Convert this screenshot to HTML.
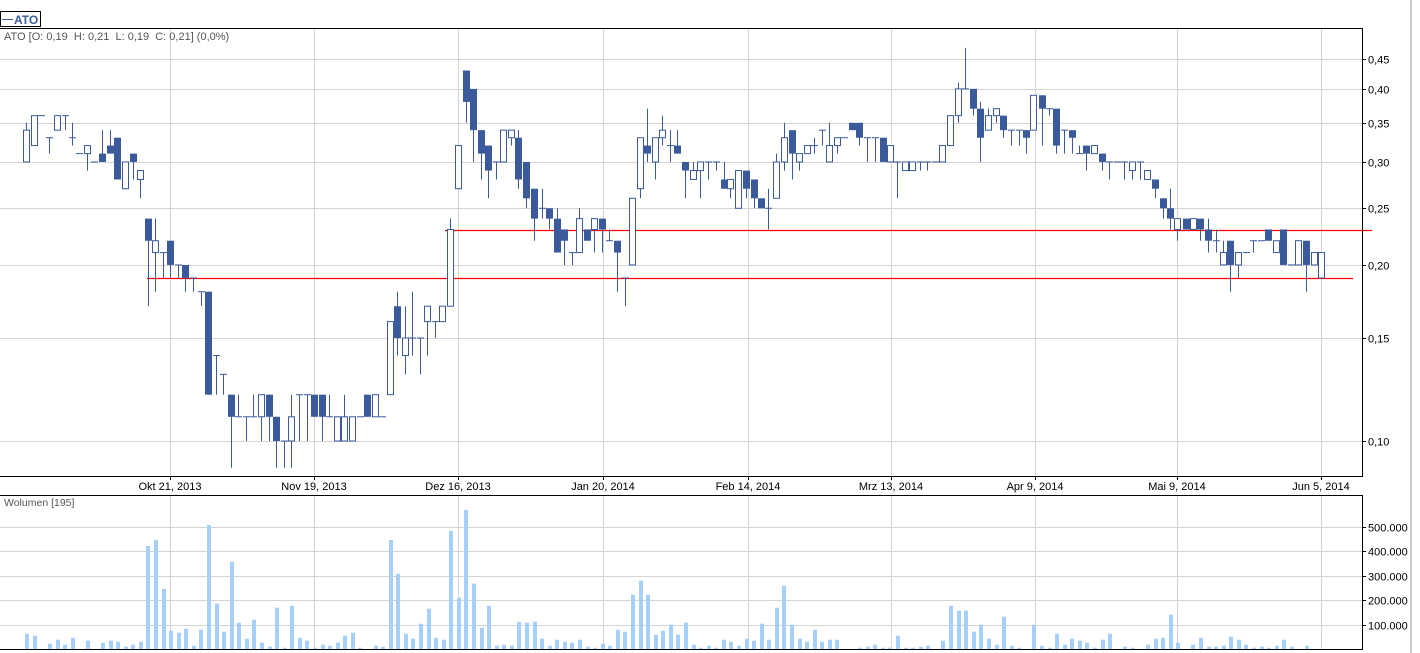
<!DOCTYPE html>
<html><head><meta charset="utf-8">
<style>
html,body{margin:0;padding:0;background:#fff;width:1420px;height:653px;overflow:hidden;}
svg text{font-family:"Liberation Sans",Arial,sans-serif;}
</style></head>
<body>
<div id="c"></div>
<script>
var W=1420,H=653;
function py(p){return 441-254*Math.log(p/0.10);}
var C='#3a5a9c';
var d=[
[26,.30,.35,.30,.34],[34,.32,.36,.32,.36],[41,.36,.36,.36,.36],[49,.33,.33,.31,.33],[57,.34,.36,.34,.36],
[65,.36,.36,.34,.36],[72,.33,.35,.32,.33],[79,.31,.31,.31,.31],[87,.31,.32,.29,.32],[94,.30,.30,.30,.30],
[102,.31,.34,.30,.30],[110,.32,.34,.31,.31],[117,.33,.33,.28,.28],[125,.27,.30,.27,.30],[133,.31,.31,.28,.30],
[140,.28,.29,.26,.29],[148,.24,.24,.17,.22],[155,.21,.24,.18,.22],[163,.21,.21,.19,.21],[170,.22,.22,.19,.20],
[178,.20,.20,.19,.20],[185,.20,.20,.18,.19],[193,.19,.19,.18,.19],[201,.18,.18,.17,.18],[208,.18,.18,.12,.12],
[216,.14,.14,.12,.14],[223,.13,.13,.12,.13],[231,.12,.12,.09,.11],[238,.11,.12,.11,.11],[246,.11,.11,.10,.11],
[253,.11,.12,.11,.11],[261,.11,.12,.10,.12],[269,.12,.12,.10,.11],[276,.11,.11,.09,.10],[284,.10,.10,.09,.10],
[291,.10,.12,.09,.11],[299,.12,.12,.10,.12],[307,.12,.12,.10,.12],[314,.12,.12,.11,.11],[322,.12,.12,.10,.11],
[329,.11,.12,.11,.11],[337,.10,.11,.10,.11],[344,.10,.12,.10,.11],[352,.10,.11,.10,.11],[360,.11,.11,.11,.11],
[367,.12,.12,.11,.11],[375,.11,.12,.11,.12],[382,.11,.11,.11,.11],[390,.12,.16,.12,.16],[397,.17,.18,.14,.15],
[405,.14,.17,.13,.15],[412,.15,.18,.14,.15],[420,.15,.15,.13,.15],[427,.16,.17,.14,.17],[435,.16,.16,.15,.16],
[442,.16,.17,.16,.17],[450,.17,.24,.17,.23],[458,.27,.32,.27,.32],
[466,.43,.43,.35,.38],[473,.40,.40,.30,.34],[481,.34,.34,.28,.31],[488,.32,.32,.26,.29],[496,.30,.30,.28,.30],
[503,.30,.34,.30,.34],[511,.33,.34,.32,.34],[518,.33,.34,.27,.28],[526,.30,.30,.25,.26],[534,.27,.27,.22,.24],
[542,.25,.27,.24,.25],[549,.25,.25,.23,.24],[557,.24,.25,.21,.21],[564,.23,.23,.20,.22],[572,.21,.21,.20,.21],
[579,.21,.25,.21,.24],[587,.23,.23,.22,.22],[594,.23,.24,.21,.24],[602,.24,.24,.21,.23],[609,.22,.23,.22,.22],
[617,.22,.22,.18,.21],[625,.19,.19,.17,.19],[632,.20,.26,.20,.26],[640,.27,.33,.26,.33],[647,.32,.37,.30,.31],
[655,.30,.33,.28,.33],[662,.33,.36,.32,.34],[670,.32,.34,.30,.32],[677,.32,.34,.31,.31],[685,.30,.30,.26,.29],
[693,.28,.30,.28,.29],[700,.29,.30,.26,.30],[708,.30,.30,.28,.30],[716,.30,.30,.29,.30],[724,.28,.30,.27,.27],
[730,.27,.28,.26,.28],[738,.25,.29,.25,.29],[746,.29,.29,.26,.27],[754,.28,.28,.25,.26],[761,.26,.26,.25,.25],
[768,.25,.27,.23,.25],[776,.26,.31,.26,.30],[784,.30,.35,.29,.33],[792,.34,.34,.28,.31],[799,.30,.31,.29,.31],
[807,.31,.32,.31,.32],[814,.32,.33,.31,.32],[822,.34,.34,.32,.34],[829,.30,.35,.30,.32],[837,.32,.33,.31,.33],
[844,.33,.33,.33,.33],[852,.35,.35,.34,.34],[859,.35,.35,.32,.33],[867,.33,.33,.30,.33],[875,.33,.33,.30,.33],
[883,.33,.33,.30,.30],[890,.30,.32,.30,.32],[897,.30,.30,.26,.30],
[905,.29,.30,.29,.30],[912,.29,.30,.29,.30],[920,.30,.30,.29,.30],[927,.30,.30,.29,.30],[935,.30,.30,.30,.30],
[942,.30,.32,.30,.32],[950,.32,.36,.32,.36],[958,.36,.41,.35,.40],[965,.40,.47,.40,.40],[973,.40,.40,.36,.37],
[980,.37,.38,.30,.33],[988,.34,.37,.34,.36],[996,.36,.37,.35,.37],[1003,.36,.36,.33,.34],[1011,.34,.34,.32,.34],
[1019,.34,.34,.32,.34],[1026,.34,.34,.31,.33],[1033,.34,.39,.34,.39],[1042,.39,.39,.32,.37],[1049,.37,.37,.36,.37],
[1056,.37,.37,.31,.32],[1064,.34,.34,.31,.34],[1072,.34,.34,.31,.33],[1079,.31,.32,.31,.31],[1086,.32,.32,.29,.31],
[1094,.31,.32,.31,.32],[1102,.31,.31,.29,.30],[1109,.30,.30,.28,.30],[1117,.30,.30,.30,.30],[1124,.30,.30,.28,.30],
[1132,.29,.30,.28,.30],[1140,.30,.30,.28,.30],[1147,.28,.29,.28,.29],[1155,.28,.28,.26,.27],[1163,.26,.26,.24,.25],
[1170,.25,.27,.23,.24],[1177,.23,.24,.22,.24],[1186,.24,.24,.23,.23],[1193,.23,.24,.23,.24],[1200,.24,.24,.22,.23],
[1208,.23,.24,.21,.22],[1216,.22,.23,.21,.22],[1223,.20,.22,.20,.21],[1230,.22,.22,.18,.20],[1238,.20,.21,.19,.21],
[1246,.21,.21,.21,.21],[1253,.22,.22,.21,.22],[1261,.22,.22,.22,.22],[1268,.23,.23,.22,.22],[1276,.21,.22,.21,.22],
[1283,.23,.23,.20,.20],[1291,.20,.20,.20,.20],[1298,.20,.22,.20,.22],[1306,.22,.22,.18,.20],[1314,.20,.21,.20,.21],
[1321,.19,.21,.19,.21]
];
var v=[[27,15.3],[35,13.3],[50,5.3],[58,9.3],[65,4.3],[73,11.3],[88,8.3],[103,6.3],[111,8.3],[118,7.3],[126,2.3],[133,4.3],[141,7.3],
[148,103],[156,109],[164,60],[171,18.3],[179,16.3],[186,20.3],[194,3.3],[201,19.3],[209,124],[217,45.3],[224,17.3],[232,87.3],[239,26.3],
[247,10.3],[254,29.3],[262,6.3],[270,2.3],[277,41.3],[285,1.3],[292,43.3],[300,11.3],[307,8.3],[315,1.3],[323,4.3],[330,3.3],[338,6.3],
[345,13.3],[353,16.3],[360,1.3],[376,3.3],[383,2.3],[391,109],[398,75.3],[406,15.3],[413,10.3],[421,25.3],[429,40.3],[436,11.3],[444,9.3],
[451,118],[459,51.3],[466,139],[474,65.3],[482,21.3],[489,43.3],[497,3.3],[504,4.3],[512,3.3],[519,27.3],[527,26.3],[535,27.3],[542,10.3],
[550,3.3],[557,9.3],[565,7.3],[572,6.3],[580,9.3],[588,2.3],[595,1.3],[603,5.3],[610,3.3],[618,19.3],[625,17.3],[633,54.3],[641,68.3],
[648,54.3],[656,14.3],[663,18.3],[671,24.3],[678,14.3],[686,26.3],[694,4.3],[701,1.3],[709,3.3],[716,1.3],[724,9.3],[731,7.3],[739,3.3],
[747,10.3],[754,8.3],[762,25.3],[769,9.3],[777,41.3],[784,63.3],[792,24.3],[800,10.3],[807,7.3],[815,19.3],[822,7.3],[830,9.3],[837,9.3],
[860,1.3],[868,2.3],[875,4.3],[883,1.3],[890,1.3],[898,13.3],[906,1.3],[913,1.3],[921,2.3],[928,3.3],[943,8.3],[951,43.3],[959,38.3],
[966,38.3],[974,17.3],[981,24.3],[989,10.3],[997,4.3],[1004,32.3],[1012,3.3],[1019,1.3],[1034,24.3],[1042,3.3],[1050,1.3],[1057,15.3],
[1065,4.3],[1072,10.3],[1080,8.3],[1087,6.3],[1095,1.3],[1103,9.3],[1110,15.3],[1125,2.3],[1133,1.3],[1148,4.3],[1156,10.3],[1163,11.3],
[1171,34.3],[1178,6.3],[1193,4.3],[1201,11.3],[1209,2.3],[1216,2.3],[1224,3.3],[1231,12.3],[1239,9.3],[1246,4.3],[1254,1.3],[1262,2.3],
[1269,1.3],[1277,3.3],[1284,9.3],[1292,2.3],[1307,3.3]];
var s='<svg xmlns="http://www.w3.org/2000/svg" width="1420" height="653" viewBox="0 0 1420 653">';
s+='<rect width="1420" height="653" fill="#fff"/>';
var gx=[170,314,458,603,748,891,1035,1177,1321];
var gl=['Okt 21, 2013','Nov 19, 2013','Dez 16, 2013','Jan 20, 2014','Feb 14, 2014','Mrz 13, 2014','Apr 9, 2014','Mai 9, 2014','Jun 5, 2014'];
gx.forEach(function(x){s+='<line x1="'+(x+.5)+'" y1="28" x2="'+(x+.5)+'" y2="476" stroke="#d4d4d4"/>';
 s+='<line x1="'+(x+.5)+'" y1="495" x2="'+(x+.5)+'" y2="649" stroke="#d4d4d4"/>';});
var pl=[.10,.15,.20,.25,.30,.35,.40,.45],pt=['0,10','0,15','0,20','0,25','0,30','0,35','0,40','0,45'];
pl.forEach(function(p,i){var y=Math.round(py(p))+.5;s+='<line x1="0" y1="'+y+'" x2="1362" y2="'+y+'" stroke="#d4d4d4"/>';
 s+='<line x1="1362" y1="'+y+'" x2="1366" y2="'+y+'" stroke="#000"/>';
 s+='<text x="1368" y="'+(y+4)+'" font-size="11" fill="#000">'+pt[i]+'</text>';});
for(var k=1;k<=5;k++){var y=Math.round(649-24.5*k)+.5;s+='<line x1="0" y1="'+y+'" x2="1362" y2="'+y+'" stroke="#d4d4d4"/>';
 s+='<line x1="1362" y1="'+y+'" x2="1366" y2="'+y+'" stroke="#000"/>';
 s+='<text x="1368" y="'+(y+4)+'" font-size="11" fill="#000">'+k+'00.000</text>';}
v.forEach(function(b){s+='<rect x="'+(b[0]-2)+'" y="'+(649-b[1])+'" width="4" height="'+b[1]+'" fill="#a6cffa"/>';});
s+='<line x1="445" y1="230.5" x2="1372" y2="230.5" stroke="#f00" stroke-width="1.2"/>';
s+='<line x1="147" y1="278.5" x2="1353" y2="278.5" stroke="#f00" stroke-width="1.2"/>';
d.forEach(function(c){var x=c[0]+.5,o=py(c[1]),h=py(c[2]),l=py(c[3]),cl=py(c[4]);
 var top=Math.min(o,cl),bot=Math.max(o,cl);
 s+='<line x1="'+x+'" y1="'+h+'" x2="'+x+'" y2="'+l+'" stroke="'+C+'" stroke-width="1"/>';
 if(bot-top<1){s+='<line x1="'+(x-3.5)+'" y1="'+top+'" x2="'+(x+3.5)+'" y2="'+top+'" stroke="'+C+'" stroke-width="1"/>';}
 else if(c[4]<c[1]){s+='<rect x="'+(x-3.5)+'" y="'+top+'" width="7" height="'+(bot-top)+'" fill="'+C+'"/>';}
 else{s+='<rect x="'+(x-3)+'" y="'+top+'" width="6" height="'+(bot-top)+'" fill="#fff" stroke="'+C+'" stroke-width="1"/>';}
});
s+='<line x1="0" y1="28.5" x2="1362" y2="28.5" stroke="#000"/>';
s+='<line x1="1362.5" y1="28" x2="1362.5" y2="476" stroke="#000"/>';
s+='<line x1="0" y1="476.5" x2="1363" y2="476.5" stroke="#000"/>';
s+='<line x1="0" y1="495.5" x2="1363" y2="495.5" stroke="#000"/>';
s+='<line x1="1362.5" y1="495" x2="1362.5" y2="649" stroke="#000"/>';
s+='<line x1="0" y1="649.5" x2="1363" y2="649.5" stroke="#000"/>';
gx.forEach(function(x,i){s+='<line x1="'+(x+.5)+'" y1="476" x2="'+(x+.5)+'" y2="480" stroke="#000"/>';
 s+='<text x="'+x+'" y="490" font-size="11" text-anchor="middle" fill="#000">'+gl[i]+'</text>';});
s+='<rect x="1410" y="0" width="2" height="653" fill="#c8c8c8"/>';
s+='<rect x="0.5" y="11.5" width="40" height="15" fill="#fff" stroke="#000"/>';
s+='<line x1="2" y1="19.5" x2="13" y2="19.5" stroke="'+C+'"/>';
s+='<text x="14" y="24" font-size="12" font-weight="bold" fill="'+C+'">ATO</text>';
s+='<text x="4" y="40" font-size="11" fill="#555">ATO [O: 0,19&#160; H: 0,21&#160; L: 0,19&#160; C: 0,21] (0,0%)</text>';
s+='<text x="4" y="506" font-size="10.5" fill="#555">Wolumen [195]</text>';
s+='</svg>';
document.getElementById('c').innerHTML=s;
</script>
</body></html>
